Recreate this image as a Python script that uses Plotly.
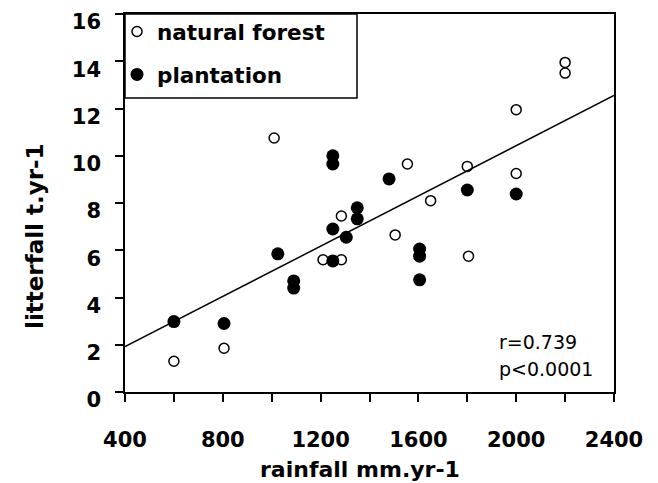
import plotly.graph_objects as go

# ---- data ----
nat_x = [2200, 2200, 2000, 1010, 1555, 1800, 2000, 1650, 1285, 1505, 1805, 1210, 1285, 805, 600]
nat_y = [13.95, 13.5, 11.95, 10.75, 9.65, 9.55, 9.25, 8.1, 7.45, 6.65, 5.75, 5.6, 5.6, 1.85, 1.3]
pla_x = [1250, 1250, 1480, 1800, 2000, 1350, 1350, 1250, 1305, 1605, 1605, 1025, 1250, 1090, 1090, 1605, 600, 805]
pla_y = [10.0, 9.65, 9.02, 8.55, 8.38, 7.8, 7.33, 6.9, 6.55, 6.05, 5.75, 5.85, 5.55, 4.7, 4.4, 4.75, 2.98, 2.9]
fit_x = [400, 2400]
fit_y = [1.92, 12.55]
x_ticks = [400, 800, 1200, 1600, 2000, 2400]
x_minor_step = 200
y_ticks = [0, 2, 4, 6, 8, 10, 12, 14, 16]

FONT = "DejaVu Sans"
OFF = 8  # page body margin
W, H = 658 - OFF, 483 - OFF
# reference-frame pixel positions of the plot frame
X_LEFT, X_RIGHT = 125, 614
Y_TOP, Y_BOTTOM = 14, 392
L = X_LEFT - OFF
R = W - (X_RIGHT - OFF)
T = Y_TOP - OFF
B = H - (Y_BOTTOM - OFF)
PW = W - L - R
PH = H - T - B


def px(xp):
    return (xp - X_LEFT) / PW


def py(yp):
    return (Y_BOTTOM - yp) / PH


fig = go.Figure()

fig.add_trace(go.Scatter(
    x=fit_x, y=fit_y, mode="lines", line=dict(color="black", width=1.5),
    showlegend=False, hoverinfo="skip"))

fig.add_trace(go.Scatter(
    x=nat_x, y=nat_y, mode="markers", name="natural forest", legendgroup="a",
    marker=dict(symbol="circle-open", size=10, color="black", line=dict(width=1.5))))

fig.add_trace(go.Scatter(
    x=pla_x, y=pla_y, mode="markers", name="plantation", legendgroup="b",
    marker=dict(symbol="circle", size=13, color="black")))

all_x_ticks = list(range(x_ticks[0], x_ticks[-1] + 1, x_minor_step))

fig.update_layout(
    width=W, height=H,
    margin=dict(l=L, r=R, t=T, b=B, autoexpand=False),
    paper_bgcolor="white", plot_bgcolor="white",
    font=dict(family=FONT, color="black", size=19),
    xaxis=dict(
        range=[400, 2400], tickmode="array", tickvals=all_x_ticks,
        ticktext=[str(v) if v in x_ticks else "" for v in all_x_ticks],
        ticks="outside", ticklen=8, tickwidth=1.5, tickcolor="black",
        showgrid=False, zeroline=False,
        showline=True, linecolor="black", linewidth=1.5, mirror=True,
        tickfont=dict(family=FONT, size=21, weight="bold"),
        ticklabelstandoff=20, ticklabeloverflow="allow"),
    yaxis=dict(
        range=[0, 16], tickmode="array", tickvals=y_ticks,
        ticks="outside", ticklen=8, tickwidth=1.5, tickcolor="black",
        ticklabelshift=8, ticklabelstandoff=10, ticklabeloverflow="allow",
        showgrid=False, zeroline=False,
        showline=True, linecolor="black", linewidth=1.5, mirror=True,
        tickfont=dict(family=FONT, size=21, weight="bold")),
    legend=dict(
        x=px(117), y=py(11), xanchor="left", yanchor="top",
        bgcolor="rgba(0,0,0,0)", borderwidth=0,
        traceorder="grouped", tracegroupgap=12,
        font=dict(family=FONT, size=21.5, weight="bold")),
    shapes=[dict(type="rect", xref="paper", yref="paper",
                 x0=0, x1=px(357), y0=py(98), y1=1,
                 line=dict(color="black", width=1.5), fillcolor="white", layer="below")],
    annotations=[
        dict(text="litterfall t.yr-1", xref="paper", yref="paper", x=px(35), y=py(236),
             textangle=-90, showarrow=False, font=dict(size=23, weight="bold"),
             xanchor="center", yanchor="middle"),
        dict(text="rainfall mm.yr-1", xref="paper", yref="paper", x=px(360), y=py(469),
             showarrow=False, font=dict(size=22, weight="bold"), xanchor="center", yanchor="middle"),
        dict(text="r=0.739", xref="paper", yref="paper", x=px(497), y=py(342),
             showarrow=False, font=dict(size=19), xanchor="left", yanchor="middle"),
        dict(text="p<0.0001", xref="paper", yref="paper", x=px(497), y=py(369),
             showarrow=False, font=dict(size=19), xanchor="left", yanchor="middle"),
    ],
)

fig.write_html("out.html")
